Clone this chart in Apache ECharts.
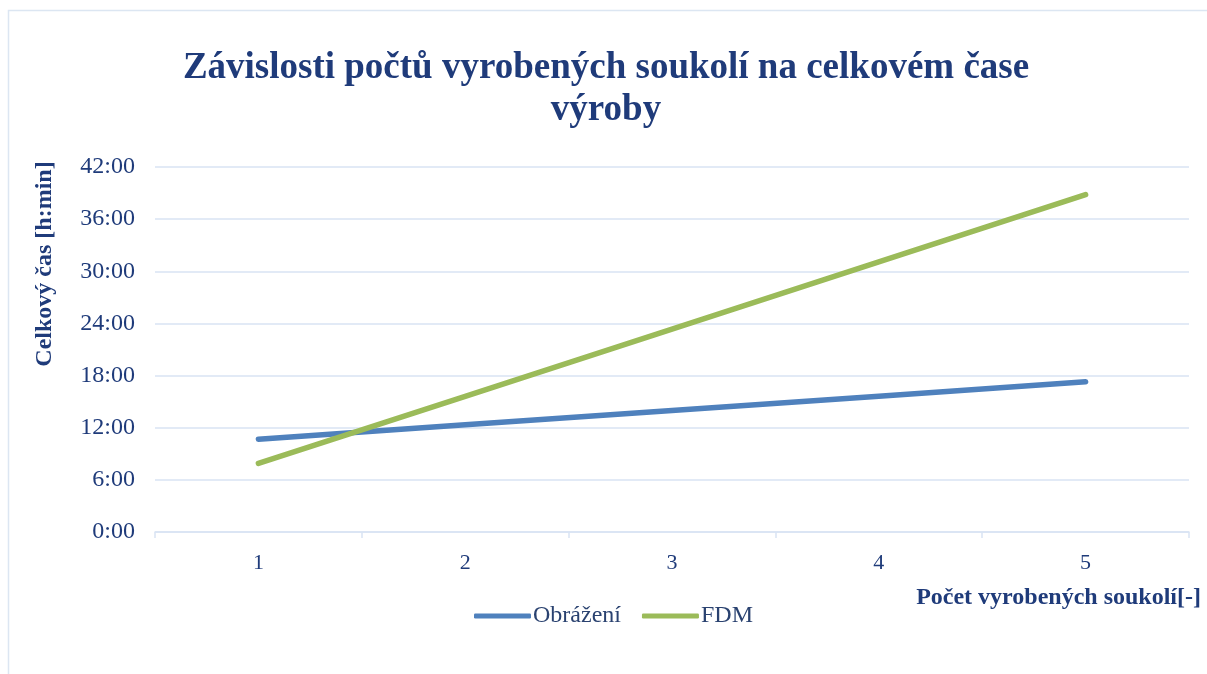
<!DOCTYPE html>
<html>
<head>
<meta charset="utf-8">
<script src="https://cdn.jsdelivr.net/npm/echarts@6/dist/echarts.min.js"></script>
<style>
  html, body { margin: 0; padding: 0; background: #fff; }
  #chart { width: 1207px; height: 674px; }
</style>
</head>
<body>
<div id="chart"></div>
<script>
// Počet vyrobených soukolí
const categories = ['1', '2', '3', '4', '5'];
// Celkový čas výroby [h:min]
const obrazeni = ['10:41', '12:20', '13:59', '15:38', '17:17'];
const fdm = ['7:53', '15:37', '23:21', '31:05', '38:49'];
const yTickStepMin = 360;
const yMaxMin = 42 * 60;

const toMin = s => { const [h, m] = s.split(':').map(Number); return h * 60 + m; };
const fmt = v => Math.floor(v / 60) + ':' + String(Math.round(v % 60)).padStart(2, '0');

const navy = '#1F3B7A';
const gridColor = '#D9E3F3';
const serif = '"Liberation Serif", "Times New Roman", serif';

const chart = echarts.init(document.getElementById('chart'), null, { renderer: 'canvas' });
chart.setOption({
  backgroundColor: '#fff',
  animation: false,
  graphic: [
    {
      type: 'rect',
      shape: { x: 8.5, y: 10.5, width: 1240, height: 700 },
      style: { fill: 'none', stroke: '#DCE6F2', lineWidth: 1.5 },
      silent: true
    },
    {
      // vertical axis title, placed above the middle of the value axis
      type: 'text',
      x: 45, y: 264,
      rotation: Math.PI / 2,
      style: {
        text: 'Celkový čas [h:min]',
        fontFamily: serif, fontWeight: 'bold', fontSize: 24, fill: navy,
        align: 'center', verticalAlign: 'middle'
      },
      silent: true
    }
  ],
  title: {
    text: 'Závislosti počtů vyrobených soukolí na celkovém čase\nvýroby',
    left: 601, top: 42, textAlign: 'center',
    textStyle: { fontFamily: serif, fontWeight: 'bold', fontSize: 37, color: navy, lineHeight: 42 }
  },
  legend: {
    data: ['Obrážení', 'FDM'],
    left: 474, top: 604, padding: 0,
    itemWidth: 57, itemHeight: 5, itemGap: 21,
    icon: 'roundRect',
    textStyle: { fontFamily: serif, fontSize: 24, color: '#2A4270', padding: [0, 0, 0, -3] }
  },
  grid: { left: 155, right: 18, top: 167, bottom: 142 },
  xAxis: {
    type: 'category',
    data: categories,
    boundaryGap: true,
    name: 'Počet vyrobených soukolí[-]',
    nameLocation: 'end',
    nameGap: 0,
    nameTextStyle: { fontFamily: serif, fontWeight: 'bold', fontSize: 24, color: navy,
      align: 'right', verticalAlign: 'top', padding: [54, -12, 0, 0] },
    axisLine: { lineStyle: { color: gridColor, width: 1.5 } },
    axisTick: { show: true, length: 6, lineStyle: { color: gridColor, width: 1.5 } },
    axisLabel: { fontFamily: serif, fontSize: 22, color: navy, margin: 20 }
  },
  yAxis: {
    type: 'value',
    min: 0, max: yMaxMin, interval: yTickStepMin,
    axisLine: { show: false },
    axisTick: { show: false },
    splitLine: { lineStyle: { color: gridColor, width: 1.5 } },
    axisLabel: { fontFamily: serif, fontSize: 24, color: navy, margin: 20, formatter: fmt }
  },
  series: [
    {
      name: 'Obrážení', type: 'line', data: obrazeni.map(toMin),
      showSymbol: false, color: '#4F81BD',
      lineStyle: { width: 5.5, cap: 'round', join: 'round' }
    },
    {
      name: 'FDM', type: 'line', data: fdm.map(toMin),
      showSymbol: false, color: '#9BBB59',
      lineStyle: { width: 5.5, cap: 'round', join: 'round' }
    }
  ]
});
</script>
</body>
</html>
